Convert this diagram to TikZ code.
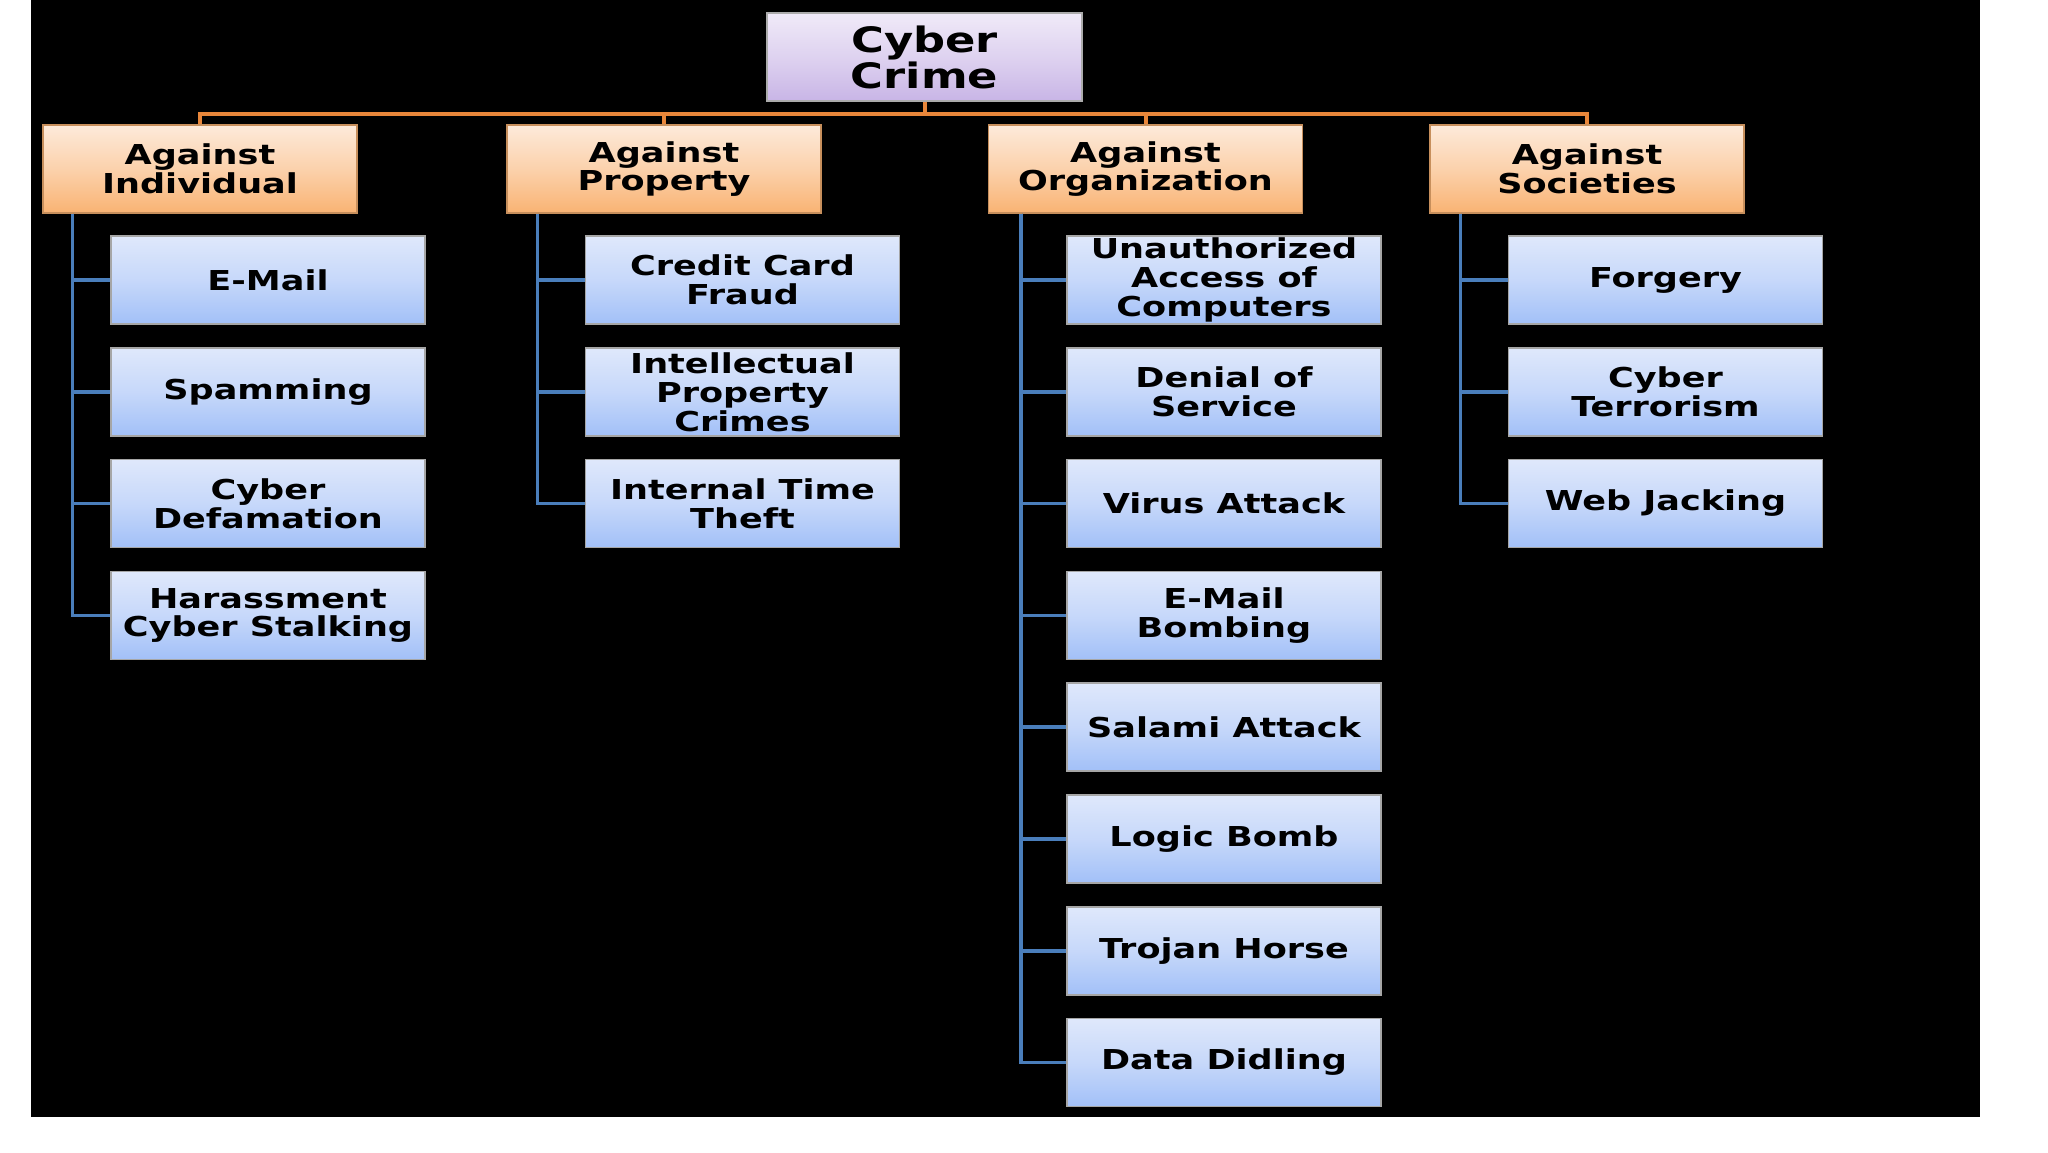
\documentclass[tikz,border=0pt]{standalone}
\usepackage{fontspec}
\setmainfont[FakeStretch=1.28]{DejaVu Sans}

\definecolor{rootTop}{HTML}{F0EAF8}
\definecolor{rootBot}{HTML}{C8B5E6}
\definecolor{groupTop}{HTML}{FDEADA}
\definecolor{groupBot}{HTML}{F9B373}
\definecolor{itemTop}{HTML}{DFE8FB}
\definecolor{itemBot}{HTML}{A2C0F8}
\definecolor{trunkOrange}{HTML}{E8863A}
\definecolor{branchBlue}{HTML}{4A7EBB}

\tikzset{
  box/.style={draw=gray!65, line width=0.6pt, minimum width=157pt, minimum height=44pt,
    inner sep=0pt, align=center, font=\bfseries\fontsize{13.7}{14.4}\selectfont},
  rootbox/.style={box, minimum width=157.5pt, top color=rootTop, bottom color=rootBot,
    middle color=rootTop!55!rootBot, font=\bfseries\fontsize{17.5}{18}\selectfont},
  groupbox/.style={box, draw=groupBot!80!black, top color=groupTop, bottom color=groupBot,
    middle color=groupTop!55!groupBot},
  itembox/.style={box, draw=gray!70, top color=itemTop, bottom color=itemBot,
    middle color=itemTop!60!itemBot},
  trunk/.style={draw=trunkOrange, line width=2pt},
  branch/.style={draw=branchBlue, line width=1.7pt},
}

\begin{document}
\begin{tikzpicture}[x=0.5pt, y=-0.5pt]
  % page and slide
  \fill[white] (0,0) rectangle (2048,1152);
  \fill[black] (31,0) rectangle (1980,1117);
  \useasboundingbox (0,0) rectangle (2048,1152);

  % top
  \node[rootbox] (crime) at (924.5,57) {Cyber\\Crime};

  % groups
  \node[groupbox] (indiv) at (200,169) {Against\\Individual};
  \node[groupbox] (prop) at (664,169) {Against\\Property};
  \node[groupbox] (org) at (1145.5,169) {Against\\Organization};
  \node[groupbox] (soc) at (1587,169) {Against\\Societies};

  % against individual
  \node[itembox] (email) at (268,280) {E-Mail};
  \node[itembox] (spam) at (268,392) {Spamming};
  \node[itembox] (defame) at (268,503.5) {Cyber\\Defamation};
  \node[itembox] (stalk) at (268,615.5) {Harassment\\Cyber Stalking};

  % against property
  \node[itembox] (card) at (742.5,280) {Credit Card\\Fraud};
  \node[itembox] (ipr) at (742.5,392) {Intellectual\\Property\\Crimes};
  \node[itembox] (ittheft) at (742.5,503.5) {Internal Time\\Theft};

  % against organization
  \node[itembox] (unauth) at (1224,280) {Unauthorized\\Access of\\Computers};
  \node[itembox] (dos) at (1224,392) {Denial of\\Service};
  \node[itembox] (virus) at (1224,503.5) {Virus Attack};
  \node[itembox] (bombing) at (1224,615.5) {E-Mail\\Bombing};
  \node[itembox] (salami) at (1224,727) {Salami Attack};
  \node[itembox] (logic) at (1224,839) {Logic Bomb};
  \node[itembox] (trojan) at (1224,951) {Trojan Horse};
  \node[itembox] (didling) at (1224,1062.5) {Data Didling};

  % against societies
  \node[itembox] (forgery) at (1665.5,280) {Forgery};
  \node[itembox] (terror) at (1665.5,392) {Cyber\\Terrorism};
  \node[itembox] (jacking) at (1665.5,503.5) {Web Jacking};

  % orange bus
  \foreach \g in {indiv,prop,org,soc}
    \draw[trunk] (crime.south) -- ++(0,12) -| (\g.north);

  % blue branches
  \foreach \c in {email,spam,defame,stalk}
    \draw[branch] ([xshift=15pt]indiv.south west) |- (\c.west);
  \foreach \c in {card,ipr,ittheft}
    \draw[branch] ([xshift=15.5pt]prop.south west) |- (\c.west);
  \foreach \c in {unauth,dos,virus,bombing,salami,logic,trojan,didling}
    \draw[branch] ([xshift=16.5pt]org.south west) |- (\c.west);
  \foreach \c in {forgery,terror,jacking}
    \draw[branch] ([xshift=15.5pt]soc.south west) |- (\c.west);
\end{tikzpicture}
\end{document}
